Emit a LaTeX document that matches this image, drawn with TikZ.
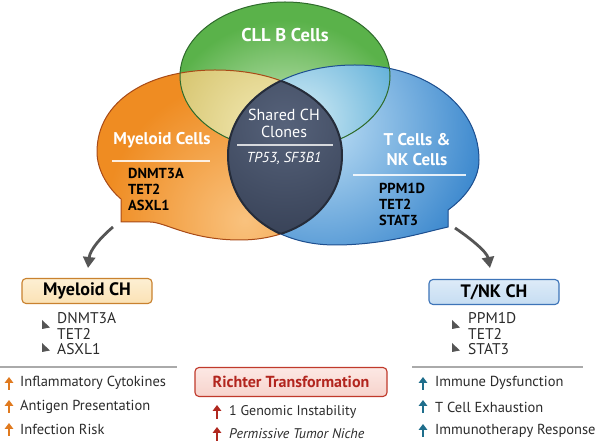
\documentclass[tikz,border=0pt]{standalone}
\usepackage{fontspec}
\setmainfont{PT Sans}
\usetikzlibrary{arrows.meta}
\definecolor{obase}{HTML}{EF8C22}
\definecolor{olight}{HTML}{F9C27E}
\definecolor{oline}{HTML}{A84A17}
\definecolor{bbase}{HTML}{3080CA}
\definecolor{blight}{HTML}{BFE0F5}
\definecolor{bline}{HTML}{1E4F8F}
\definecolor{gbase}{HTML}{5AB24A}
\definecolor{glight}{HTML}{E0F2D6}
\definecolor{gline}{HTML}{2F6B2C}
\definecolor{ybase}{HTML}{D6C46E}
\definecolor{ylight}{HTML}{F3EAB5}
\definecolor{cbase}{HTML}{5EAED8}
\definecolor{clight}{HTML}{D2ECF5}
\definecolor{lbase}{HTML}{364055}
\definecolor{llight}{HTML}{56627A}
\definecolor{lline}{HTML}{252C3A}
\definecolor{arrowgray}{HTML}{555555}
\definecolor{sepgray}{HTML}{AAAAAA}
\definecolor{txt}{HTML}{2B2B2B}
\definecolor{oarr}{HTML}{E07A1F}
\definecolor{tarr}{HTML}{1F6E8C}
\definecolor{rarr}{HTML}{B0281F}
\definecolor{myfill}{HTML}{FBE2B5}
\definecolor{myfilltop}{HTML}{FDEFD3}
\definecolor{myline}{HTML}{C9822F}
\definecolor{tnkfill}{HTML}{C6DDF2}
\definecolor{tnkfilltop}{HTML}{DDEBF8}
\definecolor{tnkline}{HTML}{3D74B8}
\definecolor{rfill}{HTML}{F7D3CC}
\definecolor{rfilltop}{HTML}{FCE8E4}
\definecolor{rline}{HTML}{C0392B}
\definecolor{rtext}{HTML}{B2251E}
\definecolor{bulgray}{HTML}{555555}
\tikzset{
  vtitle/.style={text=white, font=\bfseries\fontsize{18.5}{20}\selectfont, inner sep=0pt},
  vsub/.style={text=white, font=\bfseries\fontsize{17}{19}\selectfont, inner sep=0pt, align=center},
  vshared/.style={text=white, font=\fontsize{16}{18}\selectfont, inner sep=0pt},
  vgene/.style={text=black, font=\bfseries\fontsize{14.5}{17}\selectfont, inner sep=0pt, anchor=west},
  bgene/.style={text=txt, font=\fontsize{15.5}{17}\selectfont, inner sep=0pt, anchor=west},
  effect/.style={text=txt, font=\fontsize{14.5}{16}\selectfont, inner sep=0pt, anchor=west},
  chbox/.style={rounded corners=4pt, line width=1.1pt, minimum width=130pt, minimum height=25pt, inner sep=0pt, font=\bfseries\fontsize{18}{20}\selectfont},
  conn/.style={draw=arrowgray, line width=2.8pt, -{Triangle[width=12pt,length=11pt]}},
  uparr/.style={line width=2.6pt, -{Triangle[width=8.5pt,length=6pt]}},
  sepline/.style={draw=sepgray, line width=1.3pt},
}
\begin{document}
\begin{tikzpicture}[x=1pt,y=-1pt]
\useasboundingbox (0,0) rectangle (600,443);
\fill[white] (0,0) rectangle (600,443);
\def\orangeP{(121,222) -- (121,199) .. controls (108,188) and (97,170) .. (97,152) .. controls (97,100) and (150,70) .. (215,70) .. controls (290,70) and (342,105) .. (342,155) .. controls (342,205) and (300,240) .. (240,240) .. controls (190,240) and (165,222) .. (150,222) -- cycle}
\def\blueP{(448,227) -- (448,210) .. controls (462,200) and (479,182) .. (479,160) .. controls (479,105) and (425,65) .. (355,65) .. controls (280,65) and (228,105) .. (228,155) .. controls (228,210) and (275,245) .. (335,245) .. controls (385,245) and (425,232) .. (448,227) -- cycle}
\def\greenP{(285,76) ellipse [x radius=105, y radius=74]}
% orange
\fill[obase] \orangeP;
\begin{scope}\clip \orangeP; \shade[inner color=olight, outer color=obase] (245,220) circle (140); \end{scope}
% blue
\fill[bbase] \blueP;
\begin{scope}\clip \blueP; \shade[inner color=blight, outer color=bbase] (320,125) circle (180); \end{scope}
% green
\fill[gbase] \greenP;
\begin{scope}\clip \greenP; \shade[inner color=glight, outer color=gbase] (285,150) circle (130); \end{scope}
% overlaps with green
\begin{scope}
  \clip \greenP;
  \begin{scope}\clip \orangeP; \shade[inner color=ylight, outer color=ybase] (270,130) circle (110); \end{scope}
  \begin{scope}\clip \blueP; \shade[inner color=clight, outer color=cbase] (300,120) circle (110); \end{scope}
\end{scope}
% outlines
\draw[oline, line width=1pt] \orangeP;
\draw[bline, line width=1pt] \blueP;
\draw[gline, line width=1pt] \greenP;
% lens
\begin{scope}
  \clip \orangeP;
  \clip \blueP;
  \fill[lbase] (200,60) rectangle (360,260);
  \shade[inner color=llight, outer color=lbase] (285,125) circle (120);
\end{scope}
\begin{scope}
  \clip \orangeP;
  \draw[lline, line width=2pt] \blueP;
\end{scope}
\begin{scope}
  \clip \blueP;
  \draw[lline, line width=2pt] \orangeP;
\end{scope}
% Venn texts
\node[vtitle] (cll) at (285,35) {CLL B Cells};
\node[vshared] (sh1) at (284,115) {Shared CH};
\node[vshared] (sh2) at (284,132) {Clones};
\draw[draw=white!80!lbase, line width=1.4pt] (237,145) -- (333,145);
\node[text=white, font=\itshape\fontsize{14.5}{16}\selectfont, inner sep=0pt] (shg) at (284,158) {TP53, SF3B1};
\node[vsub] (myc) at (162,140) {Myeloid Cells};
\draw[draw=white, line width=1.4pt, opacity=0.85] (112,161) -- (210,161);
\node[vgene] (mg1) at (128,173) {DNMT3A};
\node[vgene] (mg2) at (128,189) {TET2};
\node[vgene] (mg3) at (128,205) {ASXL1};
\node[vsub] (tc1) at (417,140) {T Cells \&};
\node[vsub] (tc2) at (417,160) {NK Cells};
\draw[draw=white, line width=1.4pt, opacity=0.85] (353,175) -- (466,175);
\node[vgene] (tg1) at (379,188) {PPM1D};
\node[vgene] (tg2) at (379,204) {TET2};
\node[vgene] (tg3) at (379,220) {STAT3};
% boxes
\node[chbox, draw=myline, top color=myfilltop, bottom color=myfill] (mch) at (87,291) {Myeloid CH};
\node[chbox, draw=tnkline, top color=tnkfilltop, bottom color=tnkfill] (tch) at (494,292) {T/NK CH};
\node[chbox, minimum width=192pt, minimum height=29pt, draw=rline, top color=rfilltop, bottom color=rfill, text=rtext, font=\bfseries\fontsize{16}{18}\selectfont] (rich) at (291,382) {Richter Transformation};
% connectors
\coordinate (la) at (113,227);
\coordinate (lb) at (88,268);
\coordinate (ra) at (455,228);
\coordinate (rb) at (490,268);
\draw[conn] (la) .. controls (100,238) and (90,250) .. (lb);
\draw[conn] (ra) .. controls (470,238) and (487,252) .. (rb);
% box gene lists
\node[bgene] (bm1) at (57,318) {DNMT3A};
\node[bgene] (bm2) at (57,334) {TET2};
\node[bgene] (bm3) at (57,349) {ASXL1};
\fill[bulgray] (42,320) -- (50,327.5) -- (42,329) -- cycle;
\fill[bulgray] (42,343) -- (50,350.5) -- (42,352) -- cycle;
\node[bgene] (bt1) at (468,318) {PPM1D};
\node[bgene] (bt2) at (468,334) {TET2};
\node[bgene] (bt3) at (468,349) {STAT3};
\fill[bulgray] (452,320) -- (460,327.5) -- (452,329) -- cycle;
\fill[bulgray] (452,343) -- (460,350.5) -- (452,352) -- cycle;
% separators
\draw[sepline] (0,367) -- (177,367);
\draw[sepline] (412,367) -- (583,367);
% left effects
\draw[uparr, oarr] (9,390) -- (9,377);
\node[effect] (e1) at (20,383) {Inflammatory Cytokines};
\draw[uparr, oarr] (9,413) -- (9,400);
\node[effect] (e2) at (20,407) {Antigen Presentation};
\draw[uparr, oarr] (9,436) -- (9,423);
\node[effect] (e3) at (20,429) {Infection Risk};
% right effects
\draw[uparr, tarr] (423,390) -- (423,377);
\node[effect] (f1) at (435,383) {Immune Dysfunction};
\draw[uparr, tarr] (423,413) -- (423,400);
\node[effect] (f2) at (435,407) {T Cell Exhaustion};
\draw[uparr, tarr] (423,437) -- (423,424);
\node[effect] (f3) at (435,431) {Immunotherapy Response};
% richter effects
\draw[uparr, rarr] (217,419) -- (217,405);
\node[effect, font=\fontsize{14}{16}\selectfont] (r1) at (229,412) {1 Genomic Instability};
\draw[uparr, rarr] (217,441) -- (217,427);
\node[effect, font=\itshape\fontsize{14}{16}\selectfont] (r2) at (229,434) {Permissive Tumor Niche};
\end{tikzpicture}
\end{document}
